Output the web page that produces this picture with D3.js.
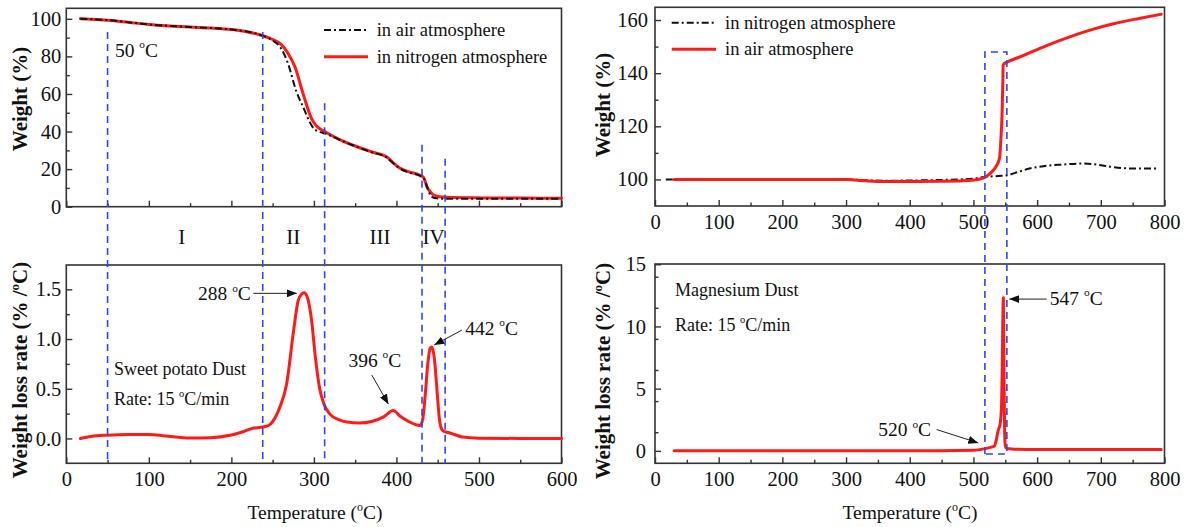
<!DOCTYPE html>
<html><head><meta charset="utf-8">
<script src="https://cdn.jsdelivr.net/npm/d3@7"></script>
<style>body{margin:0;background:#fff}svg{display:block}</style>
</head><body>
<svg id="c" width="1186" height="527"></svg>
<script>
// ---------------- DATA ----------------
// Sweet potato dust TGA (weight %, nitrogen = red solid, air = black dash-dot)
const spNTemp   = [17, 30, 50, 75, 100, 125, 150, 175, 200, 220, 238, 250, 260, 268, 277, 287, 297, 302, 308, 315, 330, 350, 370, 388, 395, 404, 415, 428, 433, 437, 441, 445, 452, 461, 500, 550, 600];
const spNWeight = [100, 99.8, 99.3, 98.2, 97.0, 96.2, 95.6, 95.1, 94.3, 93.0, 91.0, 89.0, 86.5, 82, 74.5, 60, 47, 43.5, 41.3, 39.5, 36.0, 32.3, 29.2, 26.6, 23.8, 20.6, 18.5, 16.9, 15.5, 10.6, 8, 6.2, 5.3, 5.0, 4.7, 4.6, 4.5];
const spATemp   = [17, 50, 100, 150, 200, 238, 250, 259, 268, 279, 288, 295, 300, 306, 315, 330, 350, 370, 388, 395, 404, 415, 428, 434, 438, 442, 446, 452, 470, 520, 600];
const spAWeight = [100, 99.3, 97.0, 95.6, 94.3, 91.0, 88.5, 85, 77, 61, 52, 45, 41.5, 40, 38.8, 35.8, 32.2, 29.0, 26.2, 23.6, 20.4, 18.2, 16.5, 14.5, 9.5, 5.5, 4.6, 4.3, 4.2, 4.2, 4.3];
// Sweet potato dust DTG (weight loss rate %/°C)
const spDTemp = [17, 30, 50, 75, 100, 120, 150, 175, 200, 215, 225, 238, 245, 250, 258, 267, 275, 281, 285, 288, 292, 297, 302, 307, 312, 320, 330, 340, 355, 370, 385, 396, 405, 415, 425, 429, 432, 435, 438, 441, 443, 446, 449, 452, 455, 458, 463, 470, 480, 500, 550, 600];
const spDRate = [0.0, 0.02, 0.033, 0.04, 0.04, 0.025, 0.005, 0.008, 0.035, 0.07, 0.1, 0.115, 0.13, 0.17, 0.3, 0.55, 1.06, 1.39, 1.45, 1.465, 1.42, 1.2, 0.8, 0.5, 0.35, 0.24, 0.19, 0.165, 0.155, 0.17, 0.22, 0.28, 0.22, 0.17, 0.135, 0.13, 0.2, 0.45, 0.75, 0.91, 0.92, 0.8, 0.5, 0.2, 0.09, 0.07, 0.06, 0.04, 0.015, 0.003, 0.0, 0.0];
// Stage boundaries (°C) and the weight where each dashed line starts
const spBoundT = [50, 238, 313, 431, 459];
const spBoundW = [93, 93, 55, 33, 25.5];
const spStages = ["I", "II", "III", "IV"];
const spStageT = [140, 275, 380, 445];

// Magnesium dust TGA (nitrogen = black dash-dot, air = red solid)
const mgNTemp   = [17, 100, 200, 300, 330, 360, 400, 450, 500, 519, 540, 553, 570, 588, 610, 640, 670, 690, 718, 750, 788];
const mgNWeight = [100, 100, 100, 100, 99.7, 99.5, 99.6, 99.8, 100.3, 101, 101.3, 101.6, 102.8, 104.1, 105.0, 105.6, 106, 105.7, 104.7, 104.1, 104.1];
const mgATemp   = [30, 100, 200, 300, 330, 360, 400, 450, 498, 515, 525, 535, 541, 543, 545, 546, 546.7, 548, 553.5, 580, 614, 650, 687, 720, 760, 795];
const mgAWeight = [100, 100, 100, 100, 99.5, 99.2, 99.2, 99.3, 99.7, 100.5, 102, 104.7, 108, 114.8, 125, 135, 143, 143.5, 144.2, 146.8, 150.3, 153.6, 156.5, 158.6, 160.6, 162.2];
// Magnesium dust DTG
const mgDTemp = [30, 100, 200, 300, 400, 500, 510, 520, 528, 533, 536, 538, 540, 542, 544, 545, 546, 547, 548, 549, 550, 552, 560, 600, 700, 795];
const mgDRate = [0, 0, 0, 0, 0, 0.05, 0.1, 0.2, 0.3, 0.4, 0.9, 1.45, 1.8, 2.2, 3.5, 6, 10, 12.3, 6, 1.5, 0.4, 0.2, 0.15, 0.1, 0.1, 0.1];
const mgBoxT = [518, 552.5];

// Tick values
const spXTicks = [0, 100, 200, 300, 400, 500, 600];
const mgXTicks = [0, 100, 200, 300, 400, 500, 600, 700, 800];
const spWTicks = [0, 20, 40, 60, 80, 100];
const spRTicks = [0.0, 0.5, 1.0, 1.5];
const mgWTicks = [100, 120, 140, 160];
const mgRTicks = [0, 5, 10, 15];

// ---------------- DRAW ----------------
const FONT = "'Liberation Serif','Times New Roman',serif";
const svg = d3.select('#c').attr('font-family', FONT);
svg.append('rect').attr('width', 1186).attr('height', 527).attr('fill', '#fff');
const defs = svg.append('defs');
defs.append('marker').attr('id', 'arr').attr('viewBox', '0 0 10 8').attr('refX', 10).attr('refY', 4)
  .attr('markerWidth', 10).attr('markerHeight', 8).attr('markerUnits', 'userSpaceOnUse').attr('orient', 'auto')
  .append('path').attr('d', 'M0,0L10,4L0,8Z').attr('fill', '#111');

const RED = '#ff1a1a', BLUE = '#3344ee', FRAME = '#333';

const xSP = d3.scaleLinear().domain([0, 600]).range([66.3, 561.5]);
const xMG = d3.scaleLinear().domain([0, 800]).range([655, 1164.5]);
const yTL = d3.scaleLinear().domain([0, 105.6]).range([206.7, 8.3]);
const yBL = d3.scaleLinear().domain([-0.25, 1.745]).range([463.3, 265]);
const yTR = d3.scaleLinear().domain([90, 164.8]).range([206, 7.3]);
const yBR = d3.scaleLinear().domain([-1, 15.02]).range([463.3, 264]);

function minorVals(major, step, domain) {
  const out = [];
  for (let v = domain[0]; v <= domain[1] + 1e-9; v = +(v + step).toFixed(6)) {
    if (!major.some(m => Math.abs(m - v) < 1e-6) && v > domain[0] + 1e-9 && v < domain[1] - 1e-9) out.push(v);
  }
  return out;
}

function panel(x, y, xt, xMinorStep, yt, yMinorStep, showX, yFmt, yPad) {
  const g = svg.append('g');
  const [x0, x1] = x.range(), [yb, ytp] = y.range();
  g.append('g').attr('transform', `translate(0,${yb})`)
    .call(d3.axisBottom(x).tickValues(xt).tickSize(-6).tickPadding(showX ? 8 : 0).tickFormat(showX ? d3.format('d') : () => ''));
  g.append('g').attr('transform', `translate(0,${yb})`)
    .call(d3.axisBottom(x).tickValues(minorVals(xt, xMinorStep, x.domain())).tickSize(-3.5).tickFormat(() => ''));
  g.append('g').attr('transform', `translate(${x0},0)`)
    .call(d3.axisLeft(y).tickValues(yt).tickSize(-6).tickPadding(yPad).tickFormat(yFmt));
  g.append('g').attr('transform', `translate(${x0},0)`)
    .call(d3.axisLeft(y).tickValues(minorVals(yt, yMinorStep, y.domain())).tickSize(-3.5).tickFormat(() => ''));
  g.selectAll('.domain').remove();
  g.selectAll('.tick line').attr('stroke', FRAME).attr('stroke-width', 1.4);
  g.selectAll('.tick text').attr('font-family', FONT).attr('font-size', 20.5).attr('fill', '#111');
  g.append('rect').attr('x', x0).attr('y', ytp).attr('width', x1 - x0).attr('height', yb - ytp)
    .attr('fill', 'none').attr('stroke', FRAME).attr('stroke-width', 1.6);
  return g;
}

panel(xSP, yTL, spXTicks, 50, spWTicks, 10, false, d3.format('d'), 5);
panel(xSP, yBL, spXTicks, 50, spRTicks, 0.25, true, d3.format('.1f'), 5);
panel(xMG, yTR, mgXTicks, 50, mgWTicks, 10, true, d3.format('d'), 7);
panel(xMG, yBR, mgXTicks, 50, mgRTicks, 2.5, true, d3.format('d'), 9);

function series(xs, ys, x, y, color, width, dash) {
  const pts = xs.map((t, i) => [t, ys[i]]);
  const p = svg.append('path').datum(pts)
    .attr('d', d3.line().x(d => x(d[0])).y(d => y(d[1])).curve(d3.curveMonotoneX))
    .attr('fill', 'none').attr('stroke', color).attr('stroke-width', width)
    .attr('stroke-linejoin', 'round').attr('stroke-linecap', 'round');
  if (dash) p.attr('stroke-dasharray', dash).attr('stroke-linecap', 'butt');
  return p;
}
const DASHDOT = '7,3,2,3';

series(spNTemp, spNWeight, xSP, yTL, RED, 3);
series(spATemp, spAWeight, xSP, yTL, '#111', 2, DASHDOT);
series(spDTemp, spDRate, xSP, yBL, RED, 3);
series(mgNTemp, mgNWeight, xMG, yTR, '#111', 2, DASHDOT);
series(mgATemp, mgAWeight, xMG, yTR, RED, 3);
series(mgDTemp, mgDRate, xMG, yBR, RED, 3);

// Stage boundaries (blue dashed)
spBoundT.forEach((t, i) => {
  svg.append('line').attr('x1', xSP(t)).attr('x2', xSP(t))
    .attr('y1', yTL(spBoundW[i])).attr('y2', yBL(-0.25))
    .attr('stroke', BLUE).attr('stroke-width', 1.6).attr('stroke-dasharray', '7,5');
});
spStages.forEach((s, i) => {
  svg.append('text').attr('x', xSP(spStageT[i])).attr('y', yTL(-19.8)).attr('text-anchor', 'middle')
    .attr('font-size', 21).attr('fill', '#111').text(s);
});
// Mg box
svg.append('path')
  .attr('d', `M${xMG(mgBoxT[0])},${yBR(-0.25)}V${yTR(148)}H${xMG(mgBoxT[1])}V${yBR(-0.25)}Z`)
  .attr('fill', 'none').attr('stroke', BLUE).attr('stroke-width', 1.6).attr('stroke-dasharray', '7,5');

function degText(x, y, pre, post, size, anchor) {
  const t = svg.append('text').attr('x', x).attr('y', y).attr('font-size', size).attr('fill', '#111');
  if (anchor) t.attr('text-anchor', anchor);
  t.append('tspan').text(pre);
  t.append('tspan').attr('dy', -size * 0.45).attr('font-size', size * 0.58).text('o');
  t.append('tspan').attr('dy', size * 0.45).text(post);
  return t;
}
function plain(x, y, s, size) {
  return svg.append('text').attr('x', x).attr('y', y).attr('font-size', size).attr('fill', '#111').text(s);
}
function arrow(x1, y1, x2, y2) {
  svg.append('line').attr('x1', x1).attr('y1', y1).attr('x2', x2).attr('y2', y2)
    .attr('stroke', '#222').attr('stroke-width', 1).attr('marker-end', 'url(#arr)');
}

degText(xSP(59), yTL(79.6), '50 ', 'C', 19.5);
degText(xSP(159.6), yBL(1.39), '288 ', 'C', 19.5);
arrow(xSP(226.7), yBL(1.46), xSP(279.3), yBL(1.46));
degText(xSP(341.8), yBL(0.72), '396 ', 'C', 19.5);
arrow(xSP(370.2), yBL(0.637), xSP(390.3), yBL(0.345));
degText(xSP(483.3), yBL(1.04), '442 ', 'C', 19.5);
arrow(xSP(479.3), yBL(1.09), xSP(445.7), yBL(0.94));
plain(xSP(57.8), yBL(0.637), 'Sweet potato Dust', 18);
degText(xSP(57.8), yBL(0.335), 'Rate: 15 ', 'C/min', 18);

plain(xMG(31.4), yBR(12.43), 'Magnesium Dust', 18);
degText(xMG(31.4), yBR(9.61), 'Rate: 15 ', 'C/min', 18);
degText(xMG(620), yBR(11.76), '547 ', 'C', 19.5);
arrow(xMG(615), yBR(12.2), xMG(556.3), yBR(12.2));
degText(xMG(350.6), yBR(1.17), '520 ', 'C', 19.5);
arrow(xMG(442.3), yBR(1.71), xMG(507.6), yBR(0.64));

function legendRow(x1, x2, y, color, width, dash, label, tx) {
  const l = svg.append('line').attr('x1', x1).attr('x2', x2).attr('y1', y).attr('y2', y)
    .attr('stroke', color).attr('stroke-width', width);
  if (dash) l.attr('stroke-dasharray', dash);
  plain(tx, y + 6, label, 18.5);
}
legendRow(324, 368, 30, '#111', 2, DASHDOT, 'in air atmosphere', 376.7);
legendRow(324, 368, 56.7, RED, 3, null, 'in nitrogen atmosphere', 376.7);
legendRow(671.7, 716, 22.7, '#111', 2, DASHDOT, 'in nitrogen atmosphere', 725);
legendRow(671.7, 716, 49.3, RED, 3, null, 'in air atmosphere', 725);

function yTitle(cx, cy, pre, deg) {
  const t = svg.append('text').attr('transform', `translate(${cx},${cy}) rotate(-90)`)
    .attr('text-anchor', 'middle').attr('font-size', 21).attr('font-weight', 'bold').attr('fill', '#111');
  if (deg) {
    t.append('tspan').text(pre);
    t.append('tspan').attr('dy', -8).attr('font-size', 13).text('o');
    t.append('tspan').attr('dy', 8).text('C)');
  } else t.text(pre);
}
yTitle(27, 99, 'Weight (%)', false);
yTitle(27, 370, 'Weight loss rate (% /', true);
yTitle(610, 105, 'Weight (%)', false);
yTitle(610, 371, 'Weight loss rate (% /', true);
function xTitle(cx, y) {
  const t = svg.append('text').attr('x', cx).attr('y', y).attr('text-anchor', 'middle').attr('font-size', 19.5).attr('fill', '#111');
  t.append('tspan').text('Temperature (');
  t.append('tspan').attr('dy', -8).attr('font-size', 12).text('o');
  t.append('tspan').attr('dy', 8).text('C)');
}
xTitle(315, 519);
xTitle(910, 519);
</script>
</body></html>
